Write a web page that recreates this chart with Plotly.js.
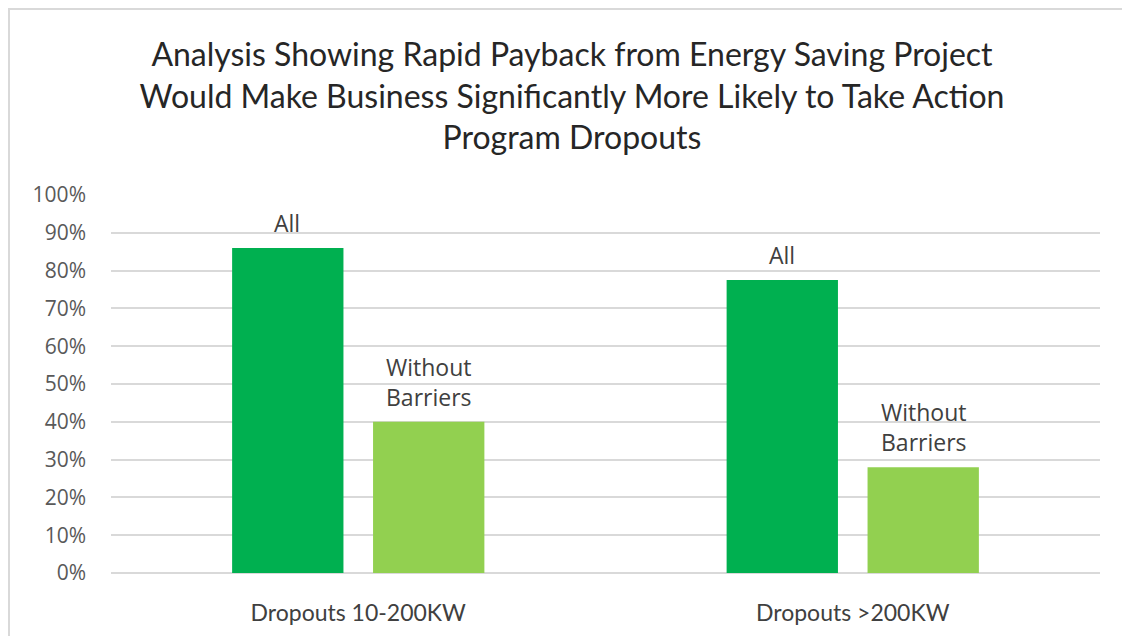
<!DOCTYPE html>
<html>
<head>
<meta charset="utf-8">
<script src="https://cdn.plot.ly/plotly-3.0.1.min.js"></script>
<style>
  html, body { margin: 0; padding: 0; background: #ffffff; }
  #wrap { position: relative; width: 1122px; height: 636px; overflow: hidden; }
  #chart { width: 1122px; height: 636px; }
  #frame { position: absolute; left: 8px; top: 8px; width: 1200px; height: 700px;
           border-top: 2px solid #d9d9d9; border-left: 2px solid #d9d9d9; pointer-events: none; }
</style>
</head>
<body>
<div id="wrap">
  <div id="chart"></div>
  <div id="frame"></div>
</div>
<script>
const categories = ['Dropouts 10-200KW', 'Dropouts >200KW'];
const seriesNames = ['All', 'Without<br>Barriers'];
const allValues = [0.86, 0.775];
const withoutValues = [0.40, 0.28];
const yTickVals = [0, 0.1, 0.2, 0.3, 0.4, 0.5, 0.6, 0.7, 0.8, 0.9, 1.0];
const yTickText = ['0%', '10%', '20%', '30%', '40%', '50%', '60%', '70%', '80%', '90%', '100%'];
const titleText = 'Analysis Showing Rapid Payback from Energy Saving Project<br>Would Make Business Significantly More Likely to Take Action<br>Program Dropouts';

const traces = [
  { type: 'bar', name: 'All', x: categories, y: allValues,
    marker: { color: '#00B050' }, hoverinfo: 'skip' },
  { type: 'bar', name: 'Without Barriers', x: categories, y: withoutValues,
    marker: { color: '#92D050' }, hoverinfo: 'skip' }
];

const labelFont = { family: 'Open Sans, Noto Sans, sans-serif', size: 23, color: '#404040' };
const annotations = [];
const series = [allValues, withoutValues];
const shifts = [-71, 71];
series.forEach((vals, si) => {
  vals.forEach((v, ci) => {
    annotations.push({
      x: categories[ci], y: v, xref: 'x', yref: 'y',
      text: seriesNames[si], showarrow: false,
      xanchor: 'center', yanchor: 'bottom',
      xshift: shifts[si], yshift: 7,
      font: labelFont
    });
  });
});

const layout = {
  width: 1122, height: 636,
  paper_bgcolor: '#ffffff', plot_bgcolor: '#ffffff',
  margin: { l: 111, r: 22, t: 195, b: 63 },
  showlegend: false,
  barmode: 'group', bargap: 0.43, bargroupgap: 0.21,
  title: {
    text: titleText,
    xref: 'container', yref: 'container',
    x: 572 / 1122, xanchor: 'center',
    y: 1 - 66 / 636, yanchor: 'top',
    font: { family: 'Lato, sans-serif', size: 32, color: '#262626' }
  },
  xaxis: {
    type: 'category',
    showgrid: false, zeroline: false, showline: false,
    ticks: '', ticklabelstandoff: 24,
    tickfont: { family: 'Lato, sans-serif', size: 23, color: '#404040' }
  },
  yaxis: {
    range: [0, 1], tickvals: yTickVals, ticktext: yTickText,
    showgrid: true, gridcolor: '#d9d9d9', gridwidth: 2,
    zeroline: true, zerolinecolor: '#d9d9d9', zerolinewidth: 2,
    showline: false, ticks: '', ticklabelstandoff: 24,
    tickfont: { family: 'Open Sans, Noto Sans, sans-serif', size: 21, color: '#595959' }
  },
  annotations: annotations
};

Plotly.newPlot('chart', traces, layout, { displayModeBar: false, staticPlot: true });
</script>
</body>
</html>
